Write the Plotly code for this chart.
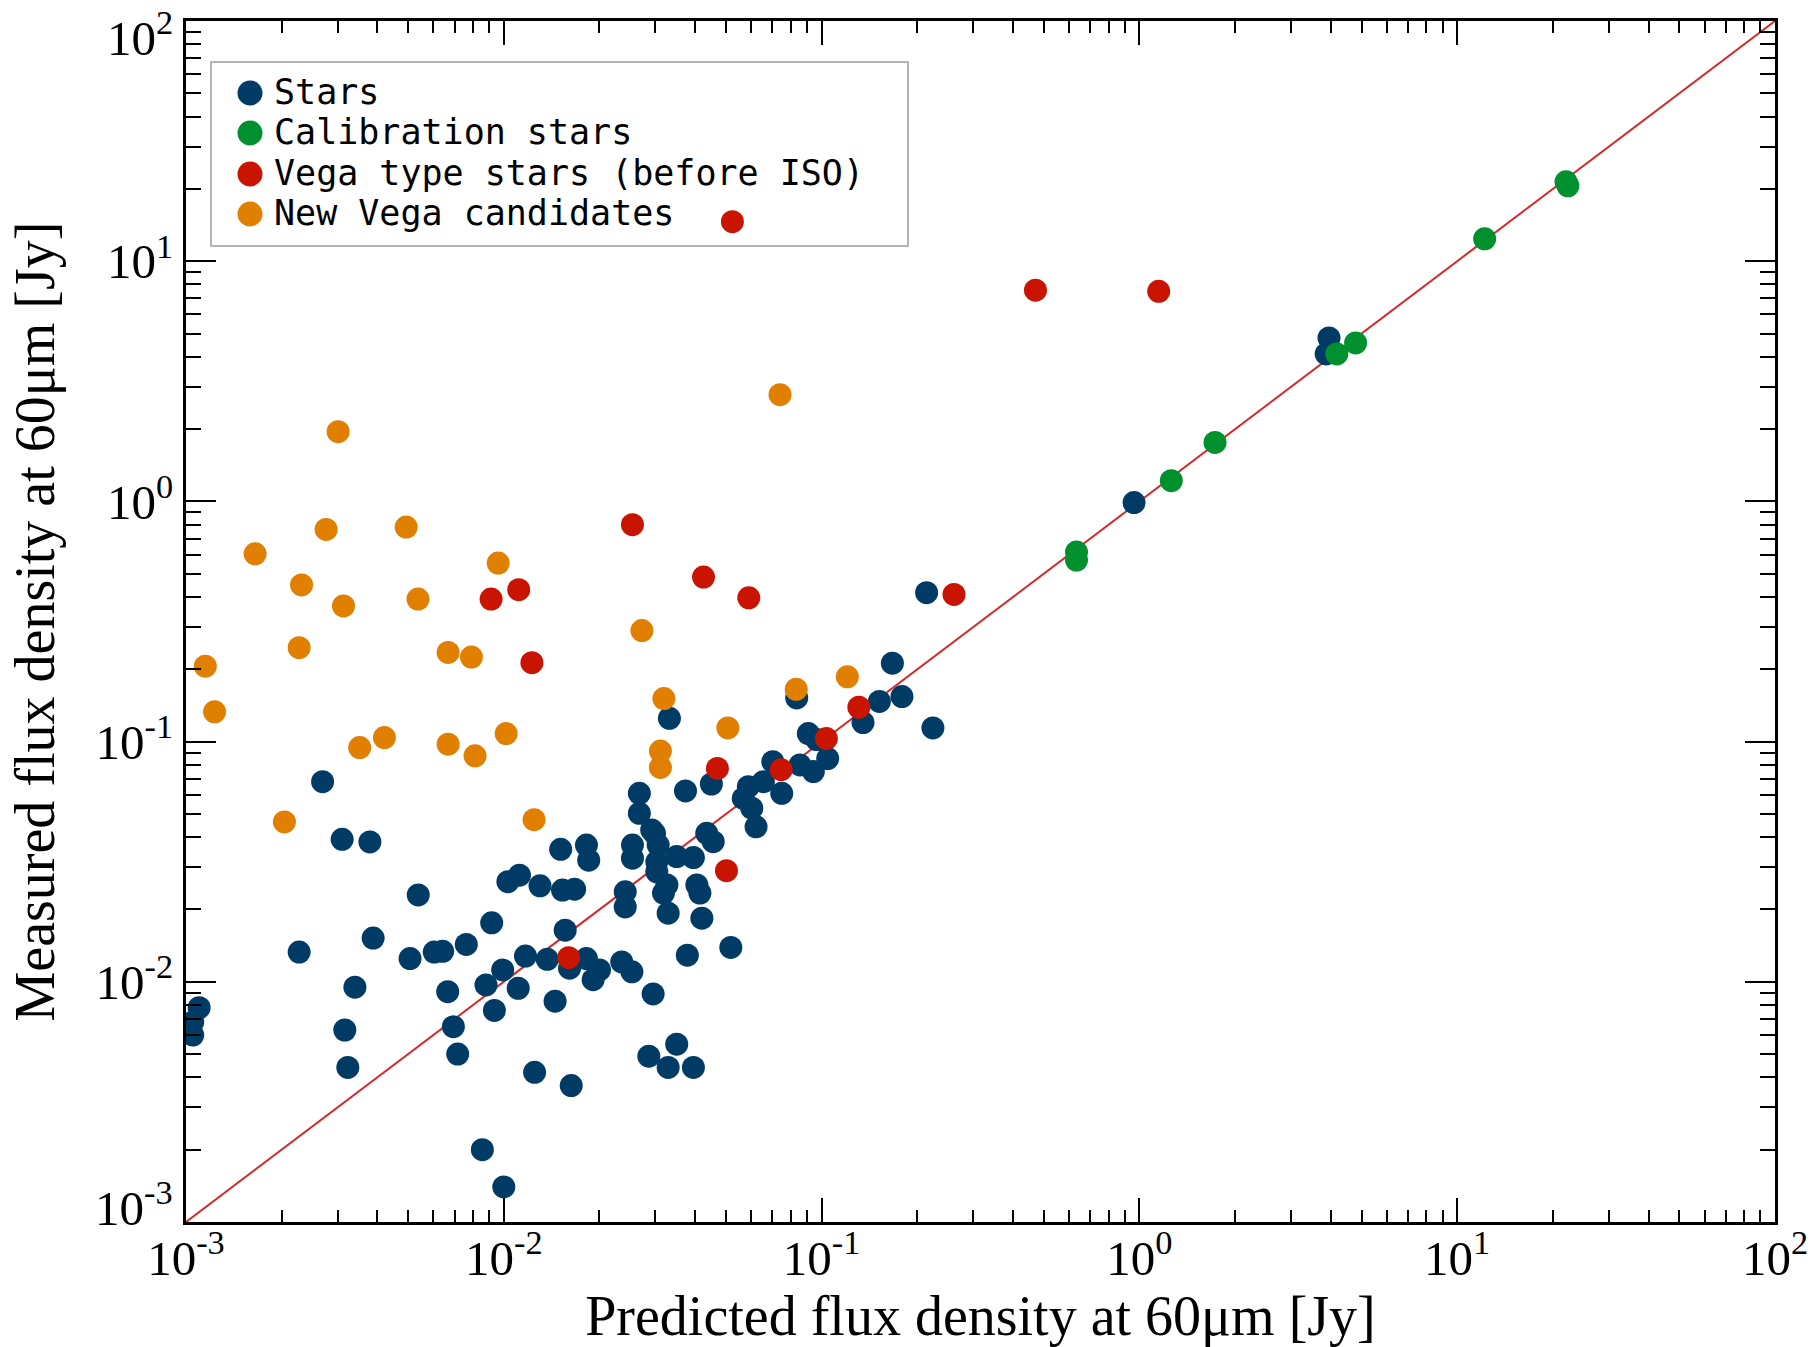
import plotly.graph_objects as go

# ---- data: predicted vs measured 60 micron flux densities [Jy] ----
stars_x = [0.00269, 0.00310, 0.00379, 0.0151, 0.0182, 0.0185, 0.0103, 0.0112, 0.0130, 0.0153,
           0.0167, 0.00538, 0.00916, 0.00388, 0.00227, 0.00507, 0.00604, 0.00642, 0.00762, 0.0156,
           0.0117, 0.0137, 0.0161, 0.0182, 0.0200, 0.0191, 0.00992, 0.00879, 0.0111, 0.0145,
           0.00934, 0.00666, 0.00340, 0.00110, 0.00105, 0.00105, 0.00316, 0.00323, 0.00694, 0.00716,
           0.0125, 0.0163, 0.00856, 0.0100, 0.214, 0.167, 0.179, 0.152, 0.135, 0.224,
           0.0835, 0.0332, 0.0908, 0.0965, 0.1045, 0.0942, 0.0855, 0.0702, 0.0656, 0.0749,
           0.0588, 0.0567, 0.0603, 0.0622, 0.0450, 0.0373, 0.0267, 0.0267, 0.0292, 0.0254,
           0.0254, 0.0306, 0.0350, 0.0395, 0.0303, 0.0435, 0.0456, 0.0303, 0.0326, 0.0318,
           0.0405, 0.0241, 0.0241, 0.0329, 0.0420, 0.0378, 0.0518, 0.0235, 0.0253, 0.0295,
           0.0350, 0.0286, 0.0329, 0.0395, 0.0298, 0.0414, 3.95, 3.87, 0.962]
stars_y = [0.0681, 0.0392, 0.0382, 0.0356, 0.0371, 0.0321, 0.0261, 0.0278, 0.0251, 0.0241,
           0.0243, 0.0230, 0.0176, 0.0152, 0.0133, 0.0125, 0.0133, 0.0134, 0.0143, 0.0164,
           0.0128, 0.0124, 0.0114, 0.0125, 0.0112, 0.0102, 0.0112, 0.0097, 0.0094, 0.0083,
           0.0076, 0.0091, 0.0095, 0.0078, 0.0068, 0.0060, 0.0063, 0.0044, 0.0065, 0.0050,
           0.0042, 0.0037, 0.0020, 0.0014, 0.417, 0.212, 0.154, 0.147, 0.120, 0.114,
           0.152, 0.125, 0.108, 0.102, 0.085, 0.075, 0.080, 0.0825, 0.0681, 0.0609,
           0.0649, 0.0580, 0.0528, 0.0442, 0.0666, 0.0623, 0.0609, 0.0503, 0.0429, 0.0371,
           0.0327, 0.0371, 0.0332, 0.0329, 0.0316, 0.0415, 0.0383, 0.0287, 0.0253, 0.0234,
           0.0253, 0.0237, 0.0205, 0.0193, 0.0184, 0.0129, 0.0139, 0.0121, 0.0110, 0.0089,
           0.0055, 0.0049, 0.0044, 0.0044, 0.0415, 0.0234, 4.79, 4.11, 0.989]

calib_x = [22.3, 22.0, 12.2, 4.79, 4.18, 1.73, 1.26, 0.634, 0.634]
calib_y = [20.6, 21.4, 12.4, 4.57, 4.11, 1.76, 1.22, 0.615, 0.570]

vega_x = [0.0524, 0.471, 1.15, 0.0254, 0.0425, 0.059, 0.261, 0.00912, 0.01114, 0.01226,
          0.131, 0.1035, 0.047, 0.0746, 0.0502, 0.016]
vega_y = [14.6, 7.57, 7.49, 0.80, 0.484, 0.397, 0.410, 0.392, 0.429, 0.213,
          0.139, 0.103, 0.0773, 0.0764, 0.029, 0.0126]

new_x = [0.0740, 0.00301, 0.00165, 0.00276, 0.00493, 0.00960, 0.00231, 0.00313, 0.00537, 0.00227,
         0.00668, 0.00791, 0.00115, 0.00123, 0.0272, 0.0319, 0.0507, 0.0832, 0.1205, 0.0311,
         0.0311, 0.01017, 0.00421, 0.00352, 0.00668, 0.00812, 0.00204, 0.01245]
new_y = [2.78, 1.95, 0.605, 0.764, 0.782, 0.554, 0.449, 0.367, 0.392, 0.246,
         0.235, 0.225, 0.206, 0.133, 0.290, 0.151, 0.114, 0.165, 0.186, 0.0913,
         0.0781, 0.108, 0.104, 0.0944, 0.0976, 0.0873, 0.0463, 0.0473]

# one-to-one reference line spans the full axis range
one_to_one = [1e-3, 1e2]

tick_exps = [-3, -2, -1, 0, 1, 2]
tick_vals = [10.0 ** e for e in tick_exps]
tick_text = [f"10<sup>{e}</sup>" for e in tick_exps]

series = [
    ("Stars", stars_x, stars_y, "#003b66"),
    ("Calibration stars", calib_x, calib_y, "#00912e"),
    ("Vega type stars (before ISO)", vega_x, vega_y, "#c81400"),
    ("New Vega candidates", new_x, new_y, "#e07f00"),
]

SERIF = "Liberation Serif"
TICK_SIZE = 49
TITLE_SIZE = 56

fig = go.Figure()
fig.add_trace(go.Scatter(x=one_to_one, y=one_to_one, mode="lines",
                         line=dict(color="#d42a2a", width=2), showlegend=False,
                         hoverinfo="skip"))
for name, xs, ys, col in series:
    fig.add_trace(go.Scatter(x=xs, y=ys, mode="markers", name=name,
                             marker=dict(color=col, size=23, line=dict(width=0)),
                             showlegend=False))

# ---- hand-built legend box (compact row spacing) ----
W, H = 1820, 1347
L, R, T, B = 186, 45, 21, 125
pw, ph = W - L - R, H - T - B


def px(xp):
    return (xp - L) / pw


def py(yp):
    return (H - B - yp) / ph


shapes = [dict(type="rect", xref="paper", yref="paper",
               x0=px(211), x1=px(908), y0=py(246), y1=py(62),
               line=dict(color="#b4b4b4", width=2), fillcolor="rgba(0,0,0,0)",
               layer="below")]
annotations = []
row_y = [93, 133, 174, 214]
for (name, _, _, col), ry in zip(series, row_y):
    shapes.append(dict(type="circle", xref="paper", yref="paper",
                       xsizemode="pixel", ysizemode="pixel",
                       xanchor=px(250), yanchor=py(ry),
                       x0=-12.5, x1=12.5, y0=-12.5, y1=12.5,
                       fillcolor=col, line=dict(width=0)))
    annotations.append(dict(xref="paper", yref="paper", x=px(272), y=py(ry - 1),
                            xanchor="left", yanchor="middle", text=name,
                            showarrow=False,
                            font=dict(family="DejaVu Sans Mono", size=35, color="black")))

# end labels of the y axis sit just inside the frame, as in the original layout
y_end_labels = {2: -13, -3: 18}
for e, shift in y_end_labels.items():
    annotations.append(dict(xref="paper", yref="y", x=0, y=e, xanchor="right",
                            yanchor="middle", xshift=-11, yshift=shift,
                            text=f"10<sup>{e}</sup>", showarrow=False,
                            font=dict(family=SERIF, size=TICK_SIZE, color="black")))
y_tick_text = ["" if e in y_end_labels else t for e, t in zip(tick_exps, tick_text)]

axis_common = dict(
    type="log", range=[-3, 2], tickmode="array", tickvals=tick_vals,
    ticks="inside", ticklen=24, tickwidth=2, tickcolor="black",
    showline=True, linecolor="black", linewidth=3, mirror="ticks",
    showgrid=False, zeroline=False, automargin=False,
    tickfont=dict(family=SERIF, size=TICK_SIZE, color="black"),
    minor=dict(ticks="inside", ticklen=12, tickwidth=2, tickcolor="black",
               dtick="D1", showgrid=False),
)

fig.update_layout(
    width=W, height=H,
    margin=dict(l=L, r=R, t=T, b=B),
    paper_bgcolor="white", plot_bgcolor="white",
    showlegend=False,
    shapes=shapes, annotations=annotations,
    xaxis=dict(axis_common, ticktext=tick_text, ticklabeloverflow="allow",
               ticklabelstandoff=-9,
               title=dict(text="Predicted flux density at 60μm [Jy]", standoff=20,
                          font=dict(family=SERIF, size=TITLE_SIZE, color="black"))),
    yaxis=dict(axis_common, ticktext=y_tick_text, ticklen=30,
               minor=dict(ticks="inside", ticklen=15, tickwidth=2, tickcolor="black",
                          dtick="D1", showgrid=False),
               title=dict(text="Measured flux density at 60μm [Jy]", standoff=24,
                          font=dict(family=SERIF, size=TITLE_SIZE, color="black"))),
)

fig.write_html("out.html")
